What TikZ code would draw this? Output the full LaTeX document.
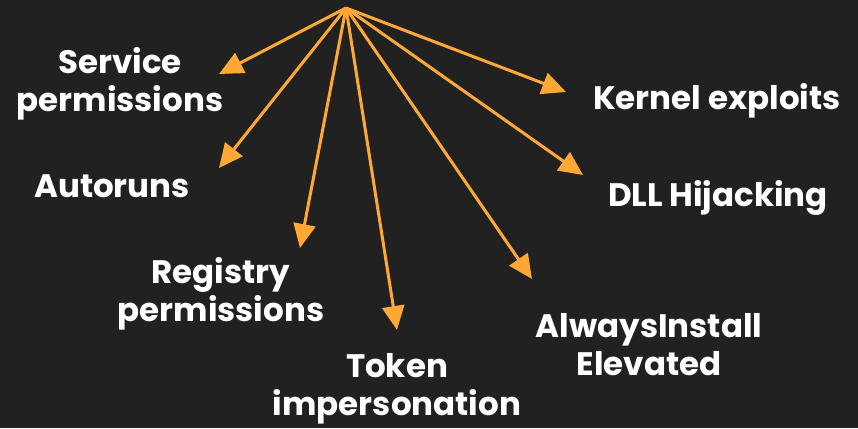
\documentclass[tikz,border=0pt]{standalone}
\usepackage{fontspec}
\setmainfont{Poppins}
\usetikzlibrary{arrows.meta}
\definecolor{bgdark}{HTML}{212121}
\definecolor{myorange}{HTML}{FFA836}
\tikzset{
  topic/.style={text=white, align=center, font=\bfseries\fontsize{32.5}{38}\selectfont, inner sep=0pt},
  link/.style={myorange, line width=3pt, -{Triangle[length=24pt, width=22pt]}}
}

\begin{document}
\begin{tikzpicture}[x=1pt, y=-1pt]
    \fill[bgdark] (0,0) rectangle (858,428);
    \useasboundingbox (0,0) rectangle (858,428);

    \coordinate (hub) at (346,8);

    % the techniques
    \node (svc) [topic] at (120,84) {Service\\permissions};
    \node (auto) [topic] at (112,186) {Autoruns};
    \node (reg) [topic] at (221,294) {Registry\\permissions};
    \node (tok) [topic] at (397,389) {Token\\impersonation};
    \node (aie) [topic] at (649,345) {AlwaysInstall\\Elevated};
    \node (dll) [topic] at (718,198) {DLL Hijacking};
    \node (kern) [topic] at (717,101) {Kernel exploits};

    % arrow ends
    \coordinate (svc-in) at (219,74);
    \coordinate (auto-in) at (219,168);
    \coordinate (reg-in) at (300,248);
    \coordinate (tok-in) at (397,330);
    \coordinate (aie-in) at (532,279);
    \coordinate (dll-in) at (583,175);
    \coordinate (kern-in) at (566,92);

    \foreach \t in {svc, auto, reg, tok, aie, dll, kern}
        \draw[link] (hub) -- (\t-in);

\end{tikzpicture}
\end{document}
